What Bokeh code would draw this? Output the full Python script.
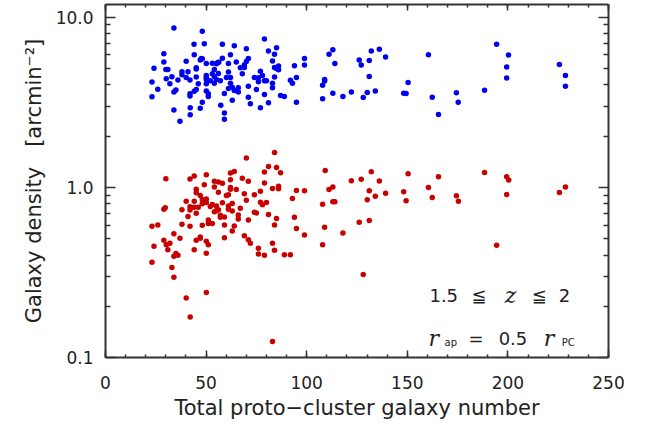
from bokeh.plotting import figure
from bokeh.models import (LinearAxis, LogAxis, FixedTicker, SingleIntervalTicker,
                          PrintfTickFormatter, CustomJSTickFormatter, Range1d, Label)
from bokeh.embed import file_html
from bokeh.resources import INLINE

# ---------------- data ----------------
blue_x = [23.1, 23.1, 24.1, 26.0, 29.0, 29.0, 30.0, 31.0, 30.2, 32.0,
          33.0, 34.0, 34.0, 35.0, 34.0, 36.0, 37.0, 38.0, 38.0, 40.1,
          40.1, 41.0, 42.0, 42.0, 42.0, 42.1, 42.1, 44.0, 44.1, 44.1,
          45.1, 45.1, 45.1, 45.1, 46.1, 47.1, 47.6, 48.1, 47.1, 48.1,
          48.1, 49.1, 50.1, 50.1, 50.1, 50.1, 50.1, 50.1, 51.1, 51.1,
          52.1, 53.1, 53.1, 54.1, 54.1, 54.1, 55.1, 55.8, 56.3, 55.1,
          56.1, 57.1, 57.3, 58.1, 58.1, 59.1, 59.1, 59.1, 60.1, 61.1,
          61.1, 61.1, 62.1, 62.1, 62.1, 63.0, 63.0, 64.0, 64.0, 65.0,
          66.0, 66.0, 67.0, 68.0, 69.0, 69.0, 70.0, 70.0, 71.0, 71.0,
          71.0, 72.0, 74.0, 75.0, 76.0, 76.0, 77.0, 77.0, 78.0, 79.0,
          79.0, 80.0, 79.0, 81.0, 81.0, 83.0, 83.0, 83.0, 84.0, 84.0,
          85.0, 84.0, 85.0, 86.0, 86.0, 87.0, 88.9, 91.9, 92.9, 93.9,
          94.9, 94.9, 98.9, 98.9, 107.9, 107.9, 108.9, 108.9, 111.1, 113.0,
          114.0, 113.0, 118.0, 122.2, 126.1, 127.1, 128.1, 130.1, 131.1, 131.1,
          132.1, 134.1, 136.1, 139.2, 148.2, 149.4, 150.4, 160.5, 162.4, 165.5,
          174.4, 175.3, 188.4, 194.4, 200.3, 199.4, 199.4, 225.6, 228.6, 228.6]
blue_y = [4.16, 3.40, 5.01, 3.76, 6.09, 5.45, 4.92, 4.92, 4.34, 4.05,
          4.46, 8.63, 3.63, 3.73, 2.84, 4.27, 2.44, 4.77, 4.58, 5.50,
          4.42, 4.77, 4.27, 3.54, 3.44, 2.93, 2.67, 6.91, 6.01, 3.66,
          5.04, 4.95, 4.44, 3.75, 4.06, 5.60, 5.70, 5.68, 2.91, 8.26,
          3.16, 6.97, 5.33, 4.54, 4.42, 4.30, 4.05, 3.68, 3.54, 3.41,
          4.23, 5.36, 4.65, 4.92, 4.48, 4.08, 5.31, 5.40, 5.43, 4.29,
          4.66, 4.23, 3.03, 6.91, 5.73, 3.55, 2.73, 2.51, 4.42, 5.33,
          4.75, 3.80, 6.01, 4.42, 4.08, 3.87, 3.25, 6.78, 3.70, 5.45,
          3.84, 3.63, 5.04, 4.65, 5.22, 5.05, 6.52, 5.48, 5.70, 3.92,
          3.38, 3.10, 4.42, 3.75, 4.40, 4.17, 4.81, 2.93, 4.54, 7.42,
          4.23, 4.23, 3.51, 6.32, 3.14, 5.52, 4.08, 3.84, 6.04, 5.05,
          4.99, 4.44, 6.60, 5.15, 4.90, 3.46, 3.41, 4.25, 4.08, 5.17,
          4.42, 3.16, 5.70, 5.22, 3.97, 3.31, 4.30, 4.21, 6.04, 6.43,
          5.33, 3.57, 3.41, 3.63, 5.60, 5.22, 3.37, 3.60, 5.55, 4.48,
          6.32, 3.68, 6.46, 5.83, 3.57, 3.55, 4.13, 6.01, 3.38, 2.68,
          3.59, 3.16, 3.71, 6.91, 5.99, 5.08, 4.38, 5.26, 4.54, 3.92]

red_x = [23.1, 23.1, 24.1, 26.0, 29.0, 29.7, 29.0, 30.0, 30.2, 31.0,
         32.0, 33.0, 34.0, 34.0, 34.0, 35.0, 36.0, 37.0, 38.0, 38.0,
         40.1, 40.1, 41.0, 42.0, 42.0, 42.0, 42.0, 42.1, 44.1, 44.1,
         44.1, 44.1, 45.1, 45.1, 45.1, 45.1, 46.1, 47.1, 47.1, 47.1,
         48.1, 48.1, 48.1, 49.1, 50.1, 50.1, 50.1, 50.1, 50.1, 50.1,
         51.1, 51.1, 51.1, 52.1, 53.1, 53.1, 54.1, 54.1, 54.1, 55.1,
         55.1, 56.1, 56.1, 56.1, 57.1, 57.1, 58.1, 58.1, 59.1, 59.1,
         59.1, 60.1, 61.1, 61.1, 61.1, 62.1, 62.1, 62.1, 62.1, 63.0,
         63.0, 63.0, 64.0, 64.0, 65.0, 66.0, 66.0, 67.0, 68.0, 69.0,
         69.0, 70.0, 70.0, 71.0, 71.0, 71.0, 72.0, 74.0, 74.0, 75.0,
         76.0, 76.0, 77.0, 77.0, 78.0, 79.0, 79.0, 79.0, 80.0, 81.0,
         81.0, 83.0, 83.0, 83.0, 84.0, 84.0, 84.0, 85.0, 85.0, 86.0,
         86.0, 87.0, 88.9, 91.9, 92.9, 93.9, 94.9, 94.9, 98.9, 98.9,
         107.9, 107.9, 108.9, 109.2, 111.1, 113.0, 113.0, 114.0, 118.0, 122.2,
         126.1, 127.1, 128.1, 130.1, 131.1, 131.1, 132.1, 134.1, 136.1, 139.2,
         148.2, 149.4, 150.4, 160.5, 162.4, 165.5, 174.4, 175.4, 188.4, 194.4,
         199.4, 200.4, 199.4, 225.6, 228.6]
red_y = [0.591, 0.363, 0.450, 0.601, 0.742, 0.759, 0.488, 1.124, 0.460, 0.430,
         0.469, 0.338, 0.533, 0.394, 0.296, 0.408, 0.399, 0.501, 0.739, 0.607,
         0.829, 0.224, 0.673, 1.119, 0.769, 0.735, 0.591, 0.173, 1.165, 0.829,
         0.762, 0.430, 0.974, 0.928, 0.703, 0.488, 0.762, 0.895, 0.510, 0.501,
         0.848, 0.801, 0.599, 1.033, 1.185, 0.852, 0.815, 0.482, 0.410, 0.241,
         0.643, 0.613, 0.460, 0.772, 0.793, 0.613, 1.084, 1.005, 0.719, 0.729,
         0.775, 1.075, 0.935, 0.739, 0.685, 0.667, 1.055, 0.811, 0.669, 0.601,
         0.505, 0.895, 0.903, 0.775, 0.742, 1.212, 1.109, 0.996, 0.974, 0.804,
         0.725, 0.553, 1.239, 0.593, 0.970, 0.688, 0.652, 0.752, 1.128, 0.916,
         0.519, 1.488, 0.840, 1.084, 0.643, 0.492, 0.469, 0.903, 0.713, 0.707,
         0.438, 0.406, 0.948, 0.818, 0.790, 1.229, 1.061, 0.399, 0.815, 1.325,
         0.691, 0.983, 0.469, 0.124, 1.598, 0.601, 0.427, 1.307, 0.655, 1.013,
         0.979, 1.218, 0.402, 0.402, 0.860, 0.667, 0.957, 0.573, 0.953, 0.524,
         0.796, 0.460, 0.583, 1.255, 0.970, 1.005, 0.823, 0.823, 0.538, 1.094,
         0.623, 1.113, 0.307, 0.845, 0.953, 0.638, 1.234, 0.887, 1.089, 0.923,
         0.940, 0.834, 1.201, 0.996, 0.871, 1.154, 0.891, 0.829, 1.222, 0.456,
         1.154, 1.104, 0.907, 0.932, 1.005]

x_ticks = [0, 50, 100, 150, 200, 250]
y_ticks = [0.1, 1.0, 10.0]
y_minor = [0.2, 0.3, 0.4, 0.5, 0.6, 0.7, 0.8, 0.9,
           2, 3, 4, 5, 6, 7, 8, 9]

FONT = "DejaVu Sans"
AX = "#333333"
TXT = "#222222"

p = figure(width=644, height=422, y_axis_type="log",
           x_range=Range1d(0, 250), y_range=Range1d(0.1, 11.85),
           output_backend="svg", toolbar_location=None,
           min_border_left=105, min_border_right=36, min_border_top=4,
           min_border_bottom=62)
p.grid.visible = False
p.outline_line_color = None
p.background_fill_color = "white"
p.border_fill_color = "white"

xt = SingleIntervalTicker(interval=50, num_minor_ticks=5)
yt = FixedTicker(ticks=y_ticks, minor_ticks=y_minor)


def style(ax, major_in, minor_in):
    ax.axis_line_color = AX
    ax.axis_line_width = 2
    ax.major_tick_line_color = AX
    ax.minor_tick_line_color = AX
    ax.major_tick_line_width = 1.5
    ax.minor_tick_line_width = 1.5
    ax.major_tick_in = major_in
    ax.major_tick_out = 0
    ax.minor_tick_in = minor_in
    ax.minor_tick_out = 0
    ax.major_label_text_font = FONT
    ax.major_label_text_color = TXT
    ax.major_label_text_font_size = "17px"
    ax.axis_label_text_font = FONT
    ax.axis_label_text_color = TXT
    ax.axis_label_text_font_style = "normal"
    ax.axis_label_text_font_size = "21px"


xa = p.xaxis[0]
xa.ticker = xt
style(xa, 7, 3)
xa.major_label_standoff = 18
xa.axis_label = "Total proto\u2212cluster galaxy number"
xa.axis_label_standoff = 4

ya = p.yaxis[0]
ya.ticker = yt
ya.formatter = PrintfTickFormatter(format="%.1f")
style(ya, 10, 5)
ya.major_label_standoff = 12
ya.axis_label = "Galaxy density\u00a0\u00a0 [arcmin\u207b\u00b2]"
ya.axis_label_standoff = 7

blank = CustomJSTickFormatter(code="return ''")
top = LinearAxis(ticker=xt, formatter=blank)
style(top, 6, 3)
top.major_label_text_font_size = "2px"
top.major_label_standoff = 0
p.add_layout(top, "above")

right = LogAxis(ticker=yt, formatter=blank)
style(right, 10, 5)
right.major_label_text_font_size = "2px"
right.major_label_standoff = 0
p.add_layout(right, "right")

p.scatter(blue_x, blue_y, size=5.5, color="#0000f0", line_color=None)
p.scatter(red_x, red_y, size=5.5, color="#c80000", line_color=None)


# ---------------- annotation text ----------------
def lab(x, y, t, size, font=FONT, style="normal"):
    p.add_layout(Label(x=x, y=y, text=t, text_font=font, text_font_size=size,
                       text_font_style=style, text_color=TXT,
                       text_baseline="alphabetic", text_align="left"))


y1, y2, y2s = 0.2314, 0.1285, 0.1217
lab(161.0, y1, "1.5", "18px")
lab(181.9, y1, "\u2266", "18px")
lab(198.4, y1, "z", "22px", "DejaVu Serif", "italic")
lab(211.8, y1, "\u2266", "18px")
lab(225.3, y1, "2", "18px")

lab(160.5, y2, "r", "22px", "DejaVu Serif", "italic")
lab(168.5, y2s, "ap", "10px")
lab(180.4, y2, "=", "18px")
lab(195.4, y2, "0.5", "18px")
lab(217.8, y2, "r", "22px", "DejaVu Serif", "italic")
lab(226.8, y2s, "PC", "10px")

open("out.html", "w").write(file_html(p, INLINE))
